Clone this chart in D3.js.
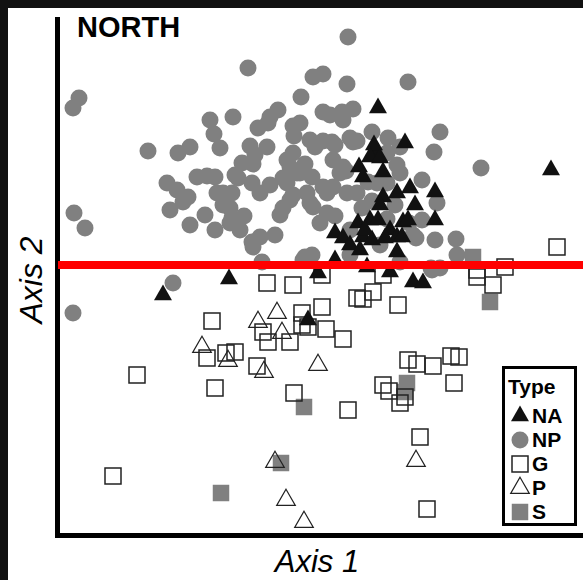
<!DOCTYPE html>
<meta charset="utf-8">
<style>
body { margin: 0; background: #111; }
svg { display: block; }
text { font-family: "Liberation Sans", Arial, sans-serif; }
</style>
<body>
<script src="https://d3js.org/d3.v7.min.js"></script>
<script>

// ordination scores (axis 1, axis 2)
var naPts = [
  [318,427],[345,392],[316,382],[314,390],[310,378],[320,377],[299,368],[303,358],
  [323,363],[491,365],[350,347],[375,343],[323,338],[337,342],[355,330],[375,315],
  [298,312],[310,315],[318,315],[330,305],[343,313],[348,315],[275,302],[283,297],
  [303,298],[312,295],[337,298],[342,298],[337,283],[275,275],[307,268],[330,263],
  [258,262],[353,253],[363,252],[248,215],[103,240],[169,256],
  [320,330],[305,305],[325,297],[290,290],[300,285]
];

var npPts = [
  [188,467],[19,437],[13,427],[88,384],[118,382],[130,388],[150,415],[154,401],
  [173,418],[241,438],[253,458],[263,461],[218,425],[210,418],[198,407],[233,409],
  [190,389],[207,388],[195,380],[182,372],[175,360],[137,358],[147,359],[155,358],
  [107,352],[117,345],[128,338],[157,342],[172,342],[192,352],[227,375],[233,382],
  [250,395],[255,388],[227,352],[237,362],[252,358],[247,342],[233,340],[288,498],
  [287,451],[348,453],[270,420],[283,415],[293,426],[240,412],[380,403],[374,383],
  [421,367],[272,393],[293,393],[312,403],[328,397],[340,388],[273,375],[283,368],
  [327,382],[337,370],[340,362],[263,348],[280,362],[287,342],[297,342],[317,352],
  [327,352],[362,355],[240,362],[377,332],[375,295],[396,296],[397,280],[353,300],
  [362,315],[252,280],[290,280],[340,273],[372,265],[380,267],[273,348],[250,332],
  [260,312],[267,322],[14,322],[25,307],[110,325],[123,333],[130,310],[113,252],
  [13,222],[163,330],[172,317],[200,298],[192,293],[202,273],[220,320],[230,335],
  [243,275],[253,328],[208,412],[193,371],[178,357],[163,342],[170,327],[184,319],
  [170,312],[200,342],[223,357],[230,368],[223,327],[263,423],[282,423],[263,394],
  [275,390],[297,394],[245,371],[286,364],[267,342],[275,319],[312,334],[327,316],
  [349,312],[356,297],[193,288],[245,278],[371,267],[308,353],[234,399],[290,397],
  [302,327],[335,330],[290,305],[320,290],[145,320],[155,305],[180,305],[210,350],
  [215,300],[160,387]
];

var gPts = [
  [497,288],[417,265],[417,258],[445,268],[433,250],[262,260],[323,260],[313,243],
  [297,237],[303,236],[338,230],[262,228],[207,252],[233,250],[152,214],[77,160],
  [147,177],[166,182],[175,183],[197,169],[155,147],[242,222],[242,210],[248,208],
  [266,206],[203,203],[208,193],[230,193],[234,142],[53,59],[283,196],[348,175],
  [357,171],[373,169],[391,179],[399,178],[394,152],[323,150],[329,144],[345,138],
  [340,132],[288,125],[360,98],[367,26]
];

var pPts = [
  [198,213],[217,222],[222,202],[142,188],[168,174],[204,163],[258,170],
  [215,73],[226,35],[244,13],[356,74]
];

var sPts = [
  [413,278],[430,233],[244,128],[221,72],[161,42],[347,152],[345,143]
];

var splitY = 270;   // horizontal divide on axis 2

var types = ["NA", "NP", "G", "P", "S"];

var W = 583, H = 580;

var x = d3.scaleLinear().domain([0, 523]).range([60, 583]);
var y = d3.scaleLinear().domain([0, 520]).range([535, 15]);

// symbol per type
var sym = {
  NA: { type: d3.symbolTriangle, size: 140, fill: "#111", stroke: "none", sw: 0 },
  NP: { type: d3.symbolCircle,   size: 227, fill: "#808080", stroke: "none", sw: 0 },
  G:  { type: d3.symbolSquare,   size: 256, fill: "none", stroke: "#222", sw: 1.5 },
  P:  { type: d3.symbolTriangle, size: 150, fill: "none", stroke: "#222", sw: 1.2 },
  S:  { type: d3.symbolSquare,   size: 272, fill: "#808080", stroke: "none", sw: 0 }
};

var svg = d3.select("body").append("svg")
    .attr("width", W)
    .attr("height", H);

// dark frame + white panel
svg.append("rect").attr("width", W).attr("height", H).attr("fill", "#111");
svg.append("rect").attr("x", 8).attr("y", 8).attr("width", W - 8).attr("height", H - 8).attr("fill", "#fff");

function drawPts(data, key) {
  var s = sym[key];
  svg.append("g").selectAll("path")
      .data(data)
    .enter().append("path")
      .attr("transform", function(d) { return "translate(" + x(d[0]) + "," + y(d[1]) + ")"; })
      .attr("d", d3.symbol().type(s.type).size(s.size))
      .attr("fill", s.fill)
      .attr("stroke", s.stroke)
      .attr("stroke-width", s.sw);
}

drawPts(sPts, "S");
drawPts(npPts, "NP");
drawPts(gPts, "G");
drawPts(pPts, "P");
drawPts(naPts, "NA");

// axes (plain lines, no ticks)
svg.append("line")
    .attr("x1", 57.5).attr("x2", 57.5)
    .attr("y1", 17).attr("y2", 538)
    .attr("stroke", "#000").attr("stroke-width", 5);
svg.append("line")
    .attr("x1", 55).attr("x2", W)
    .attr("y1", 535.5).attr("y2", 535.5)
    .attr("stroke", "#000").attr("stroke-width", 5);

// red divider
svg.append("line")
    .attr("x1", 58).attr("x2", W)
    .attr("y1", y(splitY)).attr("y2", y(splitY))
    .attr("stroke", "#ff0000").attr("stroke-width", 8);

// labels
svg.append("text")
    .attr("x", 77).attr("y", 37)
    .style("font-size", "29px").style("font-weight", "bold")
    .text("NORTH");

svg.append("text")
    .attr("x", 317).attr("y", 572)
    .attr("text-anchor", "middle")
    .style("font-size", "31px").style("font-style", "italic")
    .text("Axis 1");

svg.append("text")
    .attr("transform", "translate(42,280) rotate(-90)")
    .attr("text-anchor", "middle")
    .style("font-size", "32px").style("font-style", "italic")
    .text("Axis 2");

// legend
var lg = svg.append("g");
lg.append("rect")
    .attr("x", 503.5).attr("y", 367.5)
    .attr("width", 72).attr("height", 157)
    .attr("fill", "#fff").attr("stroke", "#000").attr("stroke-width", 3);
lg.append("text")
    .attr("x", 508).attr("y", 394)
    .style("font-size", "21px").style("font-weight", "bold")
    .text("Type");

var item = lg.selectAll(".item")
    .data(types)
  .enter().append("g")
    .attr("class", "item")
    .attr("transform", function(d, i) { return "translate(0," + (423 + i * 24) + ")"; });

item.append("path")
    .attr("transform", "translate(520,-7)")
    .attr("d", function(d) { return d3.symbol().type(sym[d].type).size(sym[d].size)(); })
    .attr("fill", function(d) { return sym[d].fill; })
    .attr("stroke", function(d) { return sym[d].stroke; })
    .attr("stroke-width", function(d) { return sym[d].sw; });

item.append("text")
    .attr("x", 532)
    .style("font-size", "21px").style("font-weight", "bold")
    .text(function(d) { return d; });

</script>
</body>
